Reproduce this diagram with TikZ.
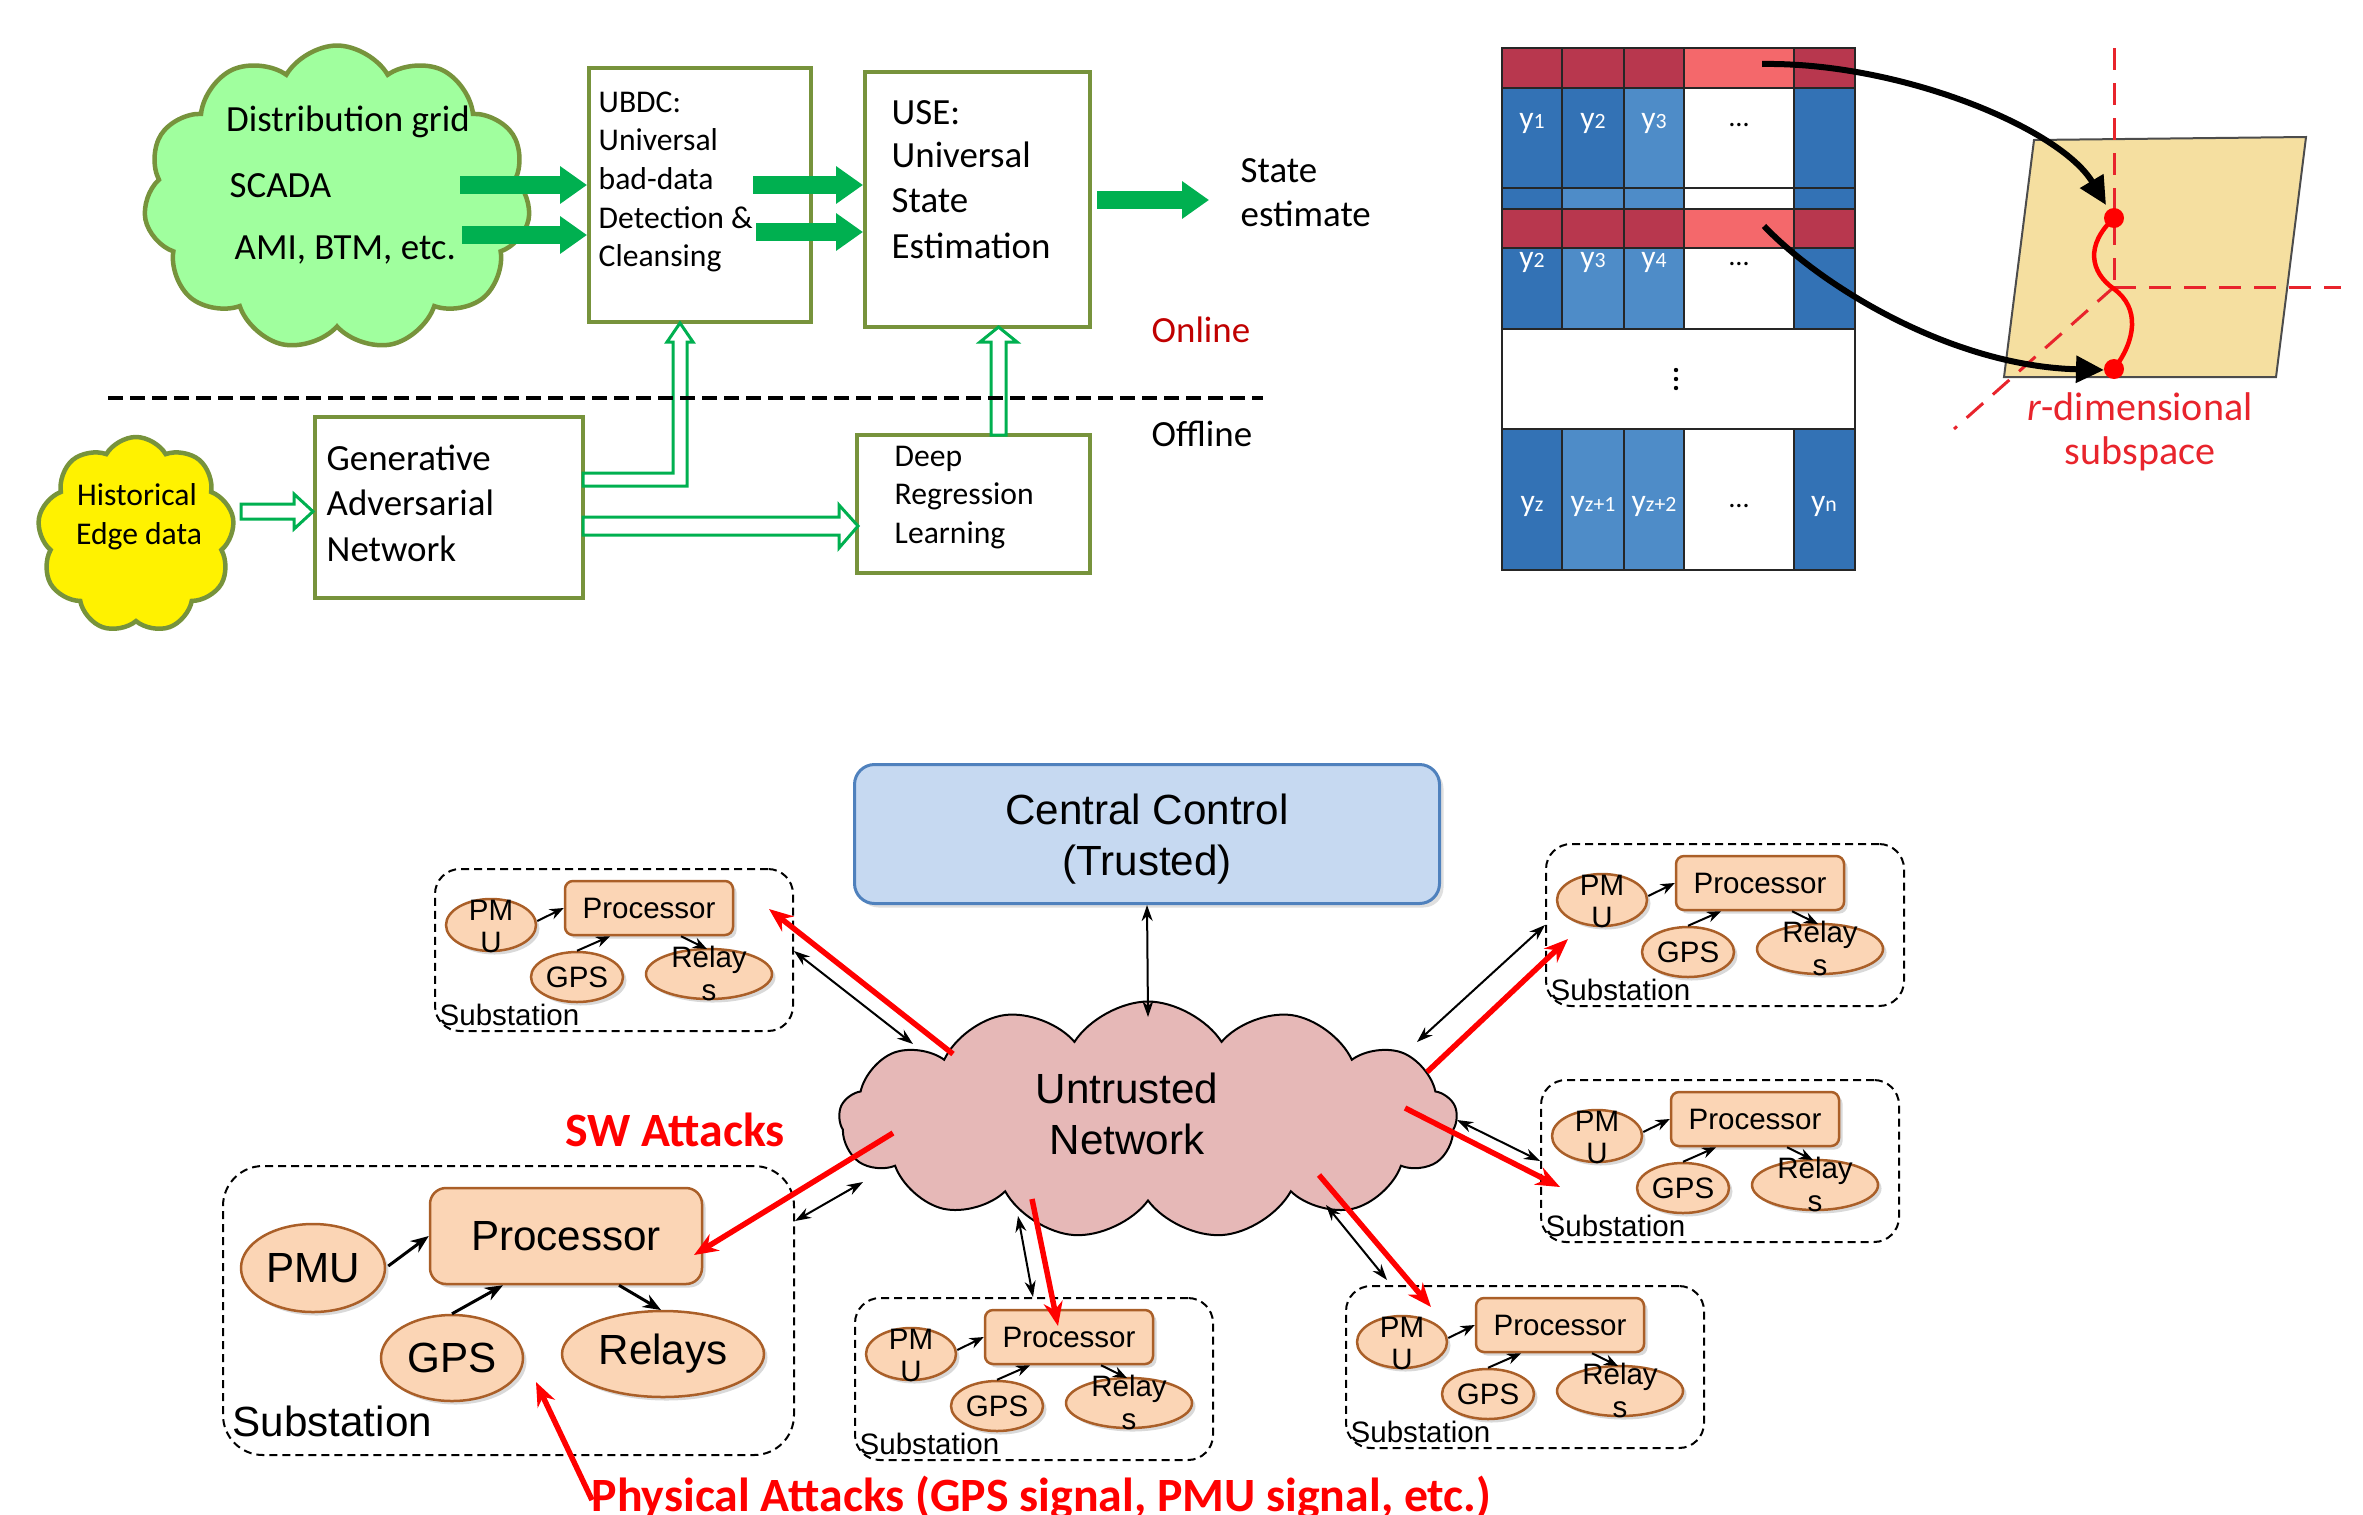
\documentclass[tikz,border=0pt]{standalone}
\usepackage{fontspec}
\setmainfont{Carlito}
\newfontfamily\arialf{Liberation Sans}
\usetikzlibrary{arrows.meta,shapes.symbols,shapes.geometric,shadows}
\newcommand\myfs[2]{\fontsize{#1}{#2}\selectfont}
\newcommand\ylab[1]{{\myfs{9}{9}y}{\myfs{6.2}{7}#1}}
\definecolor{olivec}{RGB}{119,147,60}
\definecolor{grn}{RGB}{0,176,80}
\definecolor{cloudg}{RGB}{160,255,158}
\definecolor{onl}{RGB}{192,0,0}
\definecolor{dred}{RGB}{184,55,78}
\definecolor{lred}{RGB}{244,104,107}
\definecolor{dblue}{RGB}{51,114,181}
\definecolor{lblue}{RGB}{78,140,200}
\definecolor{wheatc}{RGB}{245,223,160}
\definecolor{subred}{RGB}{232,36,44}
\definecolor{ccfill}{RGB}{198,217,241}
\definecolor{ccdraw}{RGB}{79,129,189}
\definecolor{pinkc}{RGB}{230,184,183}
\definecolor{orf}{RGB}{251,213,181}
\definecolor{ord}{RGB}{170,95,40}
\newcommand\cell[5]{\fill[#5] (#1,#2) rectangle (#3,#4); \draw[mline] (#1,#2) rectangle (#3,#4);}
\begin{document}
\begin{tikzpicture}[x=0.1mm,y=-0.1mm,
  mt/.style={inner sep=0pt, font=\myfs{10.5}{12.8}, yshift=-0.4mm},
  smt/.style={inner sep=0pt, font=\myfs{9}{10.9}, yshift=-0.35mm},
  gbox/.style={draw=olivec, line width=0.4mm, fill=white, inner sep=0pt},
  garrow/.style={draw=grn, line width=1.8mm, -{Triangle[length=2.7mm,width=3.6mm]}},
  harrow/.style={draw=grn, line width=0.3mm, fill=white, line join=miter},
  mline/.style={draw=black!85, line width=0.2mm},
  barrow/.style={line width=0.6mm, -{Triangle[length=2.8mm,width=2.6mm]}},
  bt/.style={inner sep=0pt, font=\arialf\myfs{12}{14.5}, align=center},
  st/.style={inner sep=0pt, font=\arialf\myfs{8.4}{9.1}},
  oell/.style={ellipse, draw=ord, fill=orf, line width=0.25mm, inner sep=0pt,
     drop shadow={shadow xshift=0.35mm, shadow yshift=-0.35mm, opacity=0.3}},
  oproc/.style={rectangle, rounded corners=0.8mm, draw=ord, fill=orf, line width=0.25mm, inner sep=0pt,
     minimum width=16.8mm, minimum height=5.4mm, font=\arialf\myfs{8.4}{9.1},
     drop shadow={shadow xshift=0.35mm, shadow yshift=-0.35mm, opacity=0.3}},
  subbox/.style={draw=black, line width=0.2mm, dash pattern=on 0.8mm off 0.5mm, rounded corners=2.5mm, inner sep=0pt},
  sarr/.style={line width=0.2mm, -{Stealth[length=1.4mm,width=1.1mm]}},
  biarr/.style={line width=0.2mm, {Stealth[length=1.6mm,width=1.1mm]}-{Stealth[length=1.6mm,width=1.1mm]}},
  rarr/.style={draw=red, line width=0.55mm, -{Stealth[length=2.4mm,width=1.9mm]}},
]
\useasboundingbox (0,0) rectangle (2363,1514);

% ================= TOP LEFT =================
\node[cloud, cloud puffs=11, cloud puff arc=120, aspect=1.27, draw=olivec, fill=cloudg,
      line width=0.45mm, minimum width=38.7mm, minimum height=30.5mm, inner sep=0pt] (grid) at (337,198) {};
\node[cloud, cloud puffs=9, cloud puff arc=120, aspect=1, draw=olivec, fill=yellow,
      line width=0.45mm, minimum width=19.7mm, minimum height=19.6mm, inner sep=0pt] (hist) at (136,535) {};

\node[gbox, minimum width=22.2mm, minimum height=25.4mm] (ubdc) at (700,195) {};
\node[gbox, minimum width=22.5mm, minimum height=25.5mm] (use) at (977.5,199.5) {};
\node[gbox, minimum width=26.8mm, minimum height=18.1mm] (gan) at (449,507.5) {};
\node[gbox, minimum width=23.3mm, minimum height=13.8mm] (drl) at (973.5,504) {};

\node[mt, anchor=mid] (tdg) at (348,119) {Distribution grid};
\node[mt, anchor=mid west] (tsc) at (229,185) {SCADA};
\node[mt, anchor=mid west] (tami) at (234,247) {AMI, BTM, etc.};

\node[smt, anchor=mid west] (u1) at (598,101) {UBDC:};
\node[smt, anchor=mid west] (u2) at (598,139) {Universal};
\node[smt, anchor=mid west] (u3) at (598,178) {bad-data};
\node[smt, anchor=mid west] (u4) at (598,217) {Detection \&};
\node[smt, anchor=mid west] (u5) at (598,255) {Cleansing};

\node[mt, anchor=mid west] (s1) at (891,112) {USE:};
\node[mt, anchor=mid west] (s2) at (891,155) {Universal};
\node[mt, anchor=mid west] (s3) at (891,200) {State};
\node[mt, anchor=mid west] (s4) at (891,246) {Estimation};

\node[mt, anchor=mid west] (se1) at (1240,170) {State};
\node[mt, anchor=mid west] (se2) at (1240,214) {estimate};
\node[mt, anchor=mid west, text=onl] (onl) at (1151,330) {Online};
\node[mt, anchor=mid west] (offl) at (1151,434) {Offline};

\node[smt, anchor=mid] (h1) at (137,494) {Historical};
\node[smt, anchor=mid] (h2) at (139,533) {Edge data};

\node[mt, anchor=mid west] (g1) at (326,458) {Generative};
\node[mt, anchor=mid west] (g2) at (326,503) {Adversarial};
\node[mt, anchor=mid west] (g3) at (326,549) {Network};

\node[smt, anchor=mid west] (d1) at (894,455) {Deep};
\node[smt, anchor=mid west] (d2) at (894,493) {Regression};
\node[smt, anchor=mid west] (d3) at (894,532) {Learning};

% solid green arrows
\coordinate (ga1) at (460,185);
\coordinate (ga2) at (462,235);
\coordinate (ga3) at (753,185);
\coordinate (ga4) at (756,232);
\coordinate (ga5) at (1097,200);
\coordinate (ga6) at (1209,200);
\draw[garrow] (ga1) -- (ubdc.west |- ga1);
\draw[garrow] (ga2) -- (ubdc.west |- ga2);
\draw[garrow] (ga3) -- (use.west |- ga3);
\draw[garrow] (ga4) -- (use.west |- ga4);
\draw[garrow] (ga5) -- (ga6);

% hollow arrows
\draw[harrow] (241,504) -- (294,504) -- (294,494) -- (313,511.5) -- (294,529) -- (294,519) -- (241,519) -- cycle;
\draw[harrow] (583,473) -- (673,473) -- (673,342) -- (667,342) -- (680,323) -- (693,342) -- (687,342) -- (687,486) -- (583,486) -- cycle;
\draw[harrow] (583,517) -- (839,517) -- (839,505) -- (858,526) -- (839,548) -- (839,535) -- (583,535) -- cycle;
\draw[harrow] (991,435) -- (991,342) -- (980,342) -- (998.5,327) -- (1017,342) -- (1006,342) -- (1006,435) -- cycle;

% dashed separator
\draw[dash pattern=on 1.5mm off 0.7mm, line width=0.45mm] (108,398) -- (1263,398);

% ================= TOP RIGHT (matrix) =================
\cell{1502}{48}{1562}{88}{dred}
\cell{1562}{48}{1624}{88}{dred}
\cell{1624}{48}{1684}{88}{dred}
\cell{1684}{48}{1794}{88}{lred}
\cell{1794}{48}{1855}{88}{dred}
\cell{1502}{88}{1562}{188}{dblue}
\cell{1562}{88}{1624}{188}{dblue}
\cell{1624}{88}{1684}{188}{lblue}
\cell{1684}{88}{1794}{188}{white}
\cell{1794}{88}{1855}{188}{dblue}
\cell{1502}{188}{1562}{209}{dblue}
\cell{1562}{188}{1624}{209}{lblue}
\cell{1624}{188}{1684}{209}{lblue}
\cell{1684}{188}{1794}{209}{white}
\cell{1794}{188}{1855}{209}{dblue}
\cell{1502}{209}{1562}{248}{dred}
\cell{1562}{209}{1624}{248}{dred}
\cell{1624}{209}{1684}{248}{dred}
\cell{1684}{209}{1794}{248}{lred}
\cell{1794}{209}{1855}{248}{dred}
\cell{1502}{248}{1562}{329}{dblue}
\cell{1562}{248}{1624}{329}{lblue}
\cell{1624}{248}{1684}{329}{lblue}
\cell{1684}{248}{1794}{329}{white}
\cell{1794}{248}{1855}{329}{dblue}
\cell{1502}{329}{1855}{429}{white}
\cell{1502}{429}{1562}{570}{dblue}
\cell{1562}{429}{1624}{570}{lblue}
\cell{1624}{429}{1684}{570}{lblue}
\cell{1684}{429}{1794}{570}{white}
\cell{1794}{429}{1855}{570}{dblue}

\node[inner sep=0pt, text=white] (m11) at (1532,123) {\ylab{1}};
\node[inner sep=0pt, text=white] (m12) at (1593,123) {\ylab{2}};
\node[inner sep=0pt, text=white] (m13) at (1654,123) {\ylab{3}};
\node[inner sep=0pt, font=\myfs{8}{9}] (m14) at (1739,125) {…};
\node[inner sep=0pt, text=white] (m21) at (1532,262) {\ylab{2}};
\node[inner sep=0pt, text=white] (m22) at (1593,262) {\ylab{3}};
\node[inner sep=0pt, text=white] (m23) at (1654,262) {\ylab{4}};
\node[inner sep=0pt, font=\myfs{8}{9}] (m24) at (1739,264) {…};
\fill (1676,370) circle (0.22mm);
\fill (1676,379) circle (0.22mm);
\fill (1676,388) circle (0.22mm);
\node[inner sep=0pt, text=white] (m31) at (1532,506) {\ylab{z}};
\node[inner sep=0pt, text=white] (m32) at (1593,506) {\ylab{z+1}};
\node[inner sep=0pt, text=white] (m33) at (1654,506) {\ylab{z+2}};
\node[inner sep=0pt, font=\myfs{8}{9}] (m34) at (1739,506) {…};
\node[inner sep=0pt, text=white] (m35) at (1824,506) {\ylab{n}};

% subspace
\draw[fill=wheatc, draw=black!70, line width=0.2mm] (2034,140) -- (2306,137) -- (2276,377) -- (2004,377) -- cycle;
\draw[subred, line width=0.3mm, dash pattern=on 2.2mm off 1.3mm] (2114,48) -- (2114,287);
\draw[subred, line width=0.3mm, dash pattern=on 2.2mm off 1.3mm] (2114,287) -- (2341,287);
\draw[subred, line width=0.3mm, dash pattern=on 2.2mm off 1.3mm] (2114,287) -- (1954,429);
\coordinate (dot1) at (2114,218);
\coordinate (dot2) at (2114,369);
\draw[red, line width=0.45mm] (dot1) .. controls (2085,245) and (2090,272) .. (2114,289) .. controls (2140,308) and (2136,340) .. (dot2);
\fill[red] (dot1) circle (1mm);
\fill[red] (dot2) circle (1mm);
\coordinate (bs1) at (1762,64);
\coordinate (bs2) at (1764,226);
\draw[barrow] (bs1) .. controls (1900,62) and (2060,128) .. (2106,205);
\draw[barrow] (bs2) .. controls (1820,285) and (1950,366) .. (2104,370);
\node[inner sep=0pt, text=subred, font=\myfs{11.4}{13}] (rd1) at (2140,407) {\textit{r}-dimensional};
\node[inner sep=0pt, text=subred, font=\myfs{11.4}{13}] (rd2) at (2140,454) {subspace};

% ================= BOTTOM =================
\node[rectangle, rounded corners=2mm, draw=ccdraw, fill=ccfill, line width=0.3mm,
      minimum width=58.5mm, minimum height=13.9mm,
      drop shadow={shadow xshift=0.4mm, shadow yshift=-0.4mm, opacity=0.25}] (cc) at (1147,834) {};
\node[bt] (cct) at (1147,839) {Central Control\\(Trusted)};
\node[cloud, cloud puffs=13, cloud puff arc=115, aspect=2.6, draw=black, fill=pinkc, line width=0.2mm,
      minimum width=61.8mm, minimum height=23.7mm] (net) at (1148,1120) {};
\node[bt] (nett) at (1127,1114) {Untrusted\\Network};

% big substation
\node[draw=black, line width=0.2mm, dash pattern=on 0.8mm off 0.5mm, rounded corners=4mm, inner sep=0pt,
      minimum width=57.1mm, minimum height=28.9mm] (bsub) at (508.5,1310.5) {};
\node[oell, minimum width=14.4mm, minimum height=8.8mm, font=\arialf\myfs{12}{14}] (bpmu) at (313,1268) {PMU};
\node[oproc, rounded corners=1.6mm, minimum width=27.2mm, minimum height=9.6mm, font=\arialf\myfs{12}{14}] (bproc) at (566,1236) {Processor};
\node[oell, minimum width=14.2mm, minimum height=8.6mm, font=\arialf\myfs{12}{14}] (bgps) at (452,1358) {GPS};
\node[oell, minimum width=20.2mm, minimum height=8.6mm, font=\arialf\myfs{12}{14}] (brel) at (663,1354) {Relays};
\node[inner sep=0pt, anchor=mid west, font=\arialf\myfs{12}{14}] (bsubt) at (232,1428) {Substation};
\draw[line width=0.3mm, -{Stealth[length=1.8mm,width=1.4mm]}] (bpmu.east) ++(2,-2) -- (bproc.west |- 0,1236);
\draw[line width=0.3mm, -{Stealth[length=1.8mm,width=1.4mm]}] (bgps.north) -- (bproc.south -| 503,0);
\draw[line width=0.3mm, -{Stealth[length=1.8mm,width=1.4mm]}] (bproc.south -| 619,0) -- (661,1310);

\newcommand\substation[3]{%
\begin{scope}[shift={(#2,#3)}]
\node[subbox, minimum width=35.8mm, minimum height=16.2mm] (#1) at (179,81) {};
\node[oell, minimum width=9mm, minimum height=5.2mm] (#1pmu) at (56,56) {};
\node[oproc] (#1proc) at (214,39) {Processor};
\node[oell, minimum width=9.2mm, minimum height=5mm] (#1gps) at (142,108) {};
\node[oell, minimum width=12.6mm, minimum height=5mm] (#1rel) at (274,105) {};
\node[st] (#1ta) at (56,41) {PM};
\node[st] (#1tb) at (56,73) {U};
\node[st] (#1tc) at (142,108) {GPS};
\node[st] (#1td) at (274,91) {Relay};
\node[st] (#1te) at (274,124) {s};
\node[st, anchor=mid west] (#1tf) at (4,148) {Substation};
\draw[sarr] (#1pmu.east) ++(0,-4) -- (#1proc.west |- 0,39);
\draw[sarr] (#1gps.north) -- (#1proc.south -| 175,0);
\draw[sarr] (#1proc.south -| 246,0) -- (272,80);
\end{scope}}

\substation{sa}{435}{869}
\substation{sb}{1546}{844}
\substation{sc}{1541}{1080}
\substation{sd}{855}{1298}
\substation{se}{1346}{1286}

% connectors (black)
\coordinate (na) at (913,1044);
\coordinate (nb) at (863,1182);
\coordinate (nc) at (1018,1216);
\coordinate (nd) at (1326,1205);
\coordinate (ne) at (1457,1120);
\coordinate (nf) at (1417,1042);
\coordinate (ntop) at (1148,1017);
\draw[biarr] (cc.south) -- (ntop);
\draw[biarr] (sa.east |- 0,951) -- (na);
\draw[biarr] (bsub.east |- 0,1221) -- (nb);
\draw[biarr] (1033,1297) -- (nc);
\draw[biarr] (1387,1280) -- (nd);
\draw[biarr] (sc.west |- 0,1161) -- (ne);
\draw[biarr] (sb.west |- 0,925) -- (nf);

% attacks (red)
\draw[rarr] (953,1054) -- (769,909);
\draw[rarr] (893,1133) -- (694,1255);
\draw[rarr] (1032,1199) -- (1058,1326);
\draw[rarr] (1319,1175) -- (1431,1307);
\draw[rarr] (1405,1108) -- (1560,1187);
\draw[rarr] (1427,1072) -- (1568,939);
\draw[rarr] (592,1500) -- (536,1382);

\node[inner sep=0pt, text=red, font=\bfseries\myfs{13.6}{15}] (sw) at (675,1130) {SW Attacks};
\node[inner sep=0pt, text=red, font=\bfseries\myfs{13.6}{15}, anchor=base west] (phys) at (591,1511) {Physical Attacks (GPS signal, PMU signal, etc.)};
\end{tikzpicture}
\end{document}
